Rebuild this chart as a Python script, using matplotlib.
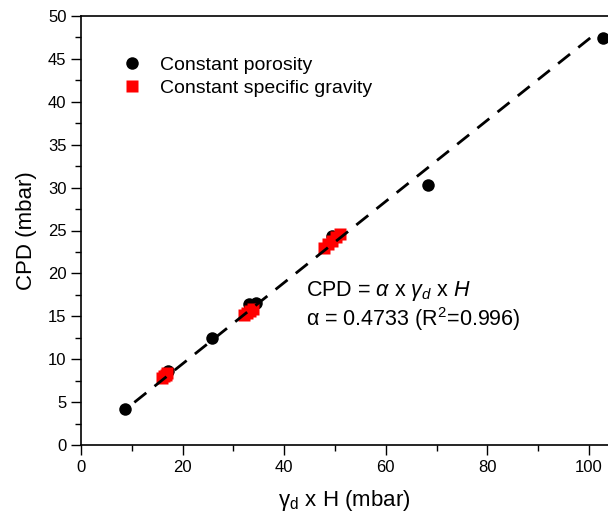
import numpy as np
import matplotlib; matplotlib.use('Agg')
import matplotlib.pyplot as plt
from matplotlib.ticker import MultipleLocator

plt.rcParams['font.family'] = ['Liberation Sans', 'DejaVu Sans']
plt.rcParams['mathtext.fontset'] = 'custom'
plt.rcParams['mathtext.rm'] = 'Liberation Sans'
plt.rcParams['mathtext.it'] = 'Liberation Sans:italic'

# data
porosity_x = [8.7, 17.1, 25.8, 33.1, 34.5, 49.4, 68.4, 102.8]
porosity_y = [4.2, 8.6, 12.5, 16.4, 16.5, 24.4, 30.3, 47.4]
gravity_x = [15.9, 16.3, 16.7, 17.0, 32.0, 32.6, 33.2, 33.8,
             47.8, 48.6, 49.4, 50.2, 51.0]
gravity_y = [7.8, 8.0, 8.2, 8.4, 15.1, 15.4, 15.6, 15.9,
             23.0, 23.4, 23.8, 24.2, 24.6]
ALPHA = 0.4733
R2 = 0.996
fit_range = [10.5, 101.5]

fig = plt.figure(figsize=(6.08, 5.17), dpi=100)
ax = fig.add_axes([81/608, 1-445/517, 527/608, 429/517])

ax.plot(porosity_x, porosity_y, 'o', color='black', ms=9, mec='none',
        label='Constant porosity', zorder=3)
ax.plot(gravity_x, gravity_y, 's', color='#ff0000', ms=8, mec='none',
        label='Constant specific gravity', zorder=4)

fx = np.linspace(fit_range[0], fit_range[1], 50)
ax.plot(fx, ALPHA*fx, color='black', lw=2.0, dashes=(5.5, 3.8), zorder=5)

ax.set_xlim(0, 103.74)
ax.set_ylim(0, 50)
ax.xaxis.set_major_locator(MultipleLocator(20))
ax.xaxis.set_minor_locator(MultipleLocator(10))
ax.yaxis.set_major_locator(MultipleLocator(5))
ax.yaxis.set_minor_locator(MultipleLocator(2.5))
ax.tick_params(which='major', direction='out', length=7, width=1, labelsize=12)
ax.tick_params(which='minor', direction='out', length=4, width=1)
ax.spines['right'].set_visible(False)
for s in ['left', 'bottom', 'top']:
    ax.spines[s].set_linewidth(1.2)

ax.set_xlabel(r'γ$_\mathrm{d}$ x H (mbar)', fontsize=16, labelpad=10)
ax.set_ylabel('CPD (mbar)', fontsize=16, labelpad=8)

ax.legend(loc='upper left', bbox_to_anchor=(0.027, 0.947), frameon=False,
          fontsize=14, handletextpad=0.45, labelspacing=0.3, numpoints=1)

ax.text(44.2, 17.4, r'CPD = $\alpha$ x $\gamma_d$ x $H$', fontsize=15.5,
        va='baseline')
ax.text(44.2, 13.9, 'α = %.4f (R$^2$=%.3f)' % (ALPHA, R2), fontsize=15.5,
        va='baseline')

plt.savefig('out.png', dpi=100)
